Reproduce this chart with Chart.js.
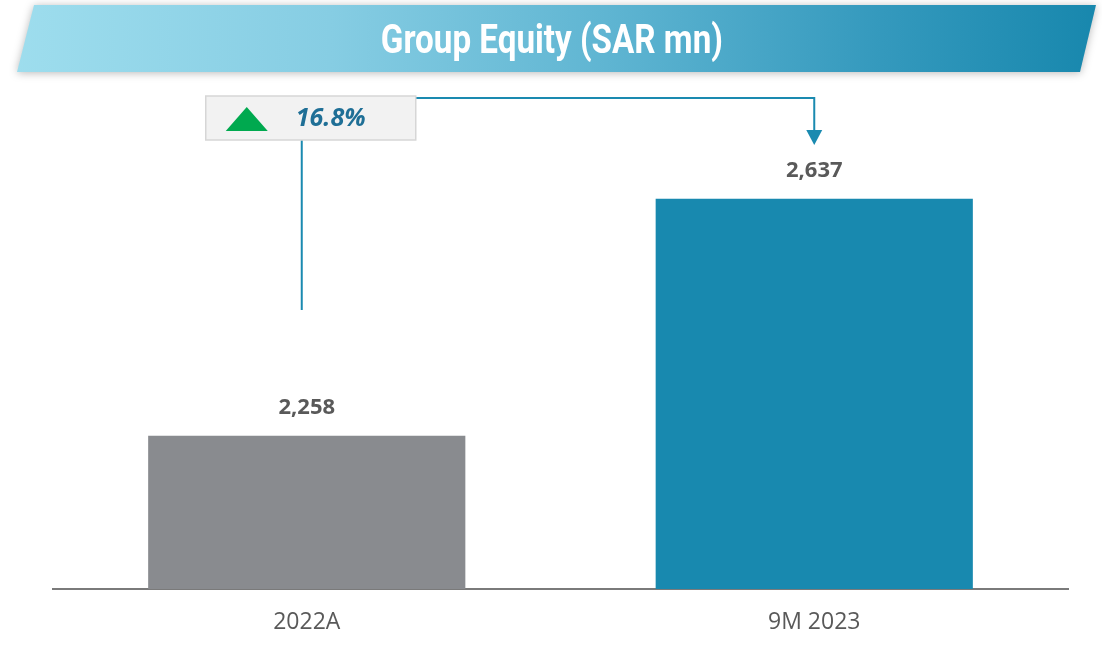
<!DOCTYPE html>
<html>
<head>
<meta charset="utf-8">
<script src="https://cdn.jsdelivr.net/npm/chart.js@4"></script>
<style>
  body { margin: 0; background: #fff; }
  #wrap { position: relative; width: 1102px; height: 652px; overflow: hidden; }
  #banner-shadow { position: absolute; left: 0; top: 0; width: 1102px; height: 80px;
    filter: drop-shadow(0 1px 4px rgba(0,0,0,0.28)); }
  #banner { position: absolute; left: 0; top: 0; width: 1102px; height: 80px;
    clip-path: polygon(34px 5px, 1096px 5px, 1080px 72px, 17px 72px);
    background: linear-gradient(to right, #9fdeee 0%, #86cde3 30%, #5fb5d2 55%, #3499bd 80%, #1787ad 100%); }
  #title { position: absolute; left: 0; top: 6px; width: 1102px; height: 67px; line-height: 67px;
    text-align: center; color: #fff; font-family: Roboto, sans-serif; font-weight: 700; font-size: 40px;
    transform: scaleX(0.83); transform-origin: 556px 0; }
  #chart { position: absolute; left: 0; top: 0; }
</style>
</head>
<body>
<div id="wrap">
  <canvas id="chart" width="1102" height="652"></canvas>
  <div id="banner-shadow"><div id="banner"></div></div>
  <div id="title">Group Equity (SAR mn)</div>
</div>
<script>
// data
const categories = ['2022A', '9M 2023'];
const equity = [2258, 2637];
const barColors = ['#898b8f', '#1889af'];
const growthLabel = '16.8%';

const fmt = v => v.toLocaleString('en-US');

// value labels above the bars
const valueLabels = {
  id: 'valueLabels',
  afterDatasetsDraw(chart) {
    const ctx = chart.ctx;
    const meta = chart.getDatasetMeta(0);
    ctx.save();
    ctx.font = "bold 22px 'Open Sans'";
    ctx.fillStyle = '#595959';
    ctx.textAlign = 'center';
    ctx.textBaseline = 'middle';
    meta.data.forEach((bar, i) => {
      ctx.fillText(fmt(equity[i]), bar.x, bar.y - 28);
    });
    ctx.restore();
  }
};

// growth box + connector arrow
const growthCallout = {
  id: 'growthCallout',
  afterDraw(chart) {
    const ctx = chart.ctx;
    const meta = chart.getDatasetMeta(0);
    const b0 = meta.data[0], b1 = meta.data[1];
    const boxL = b0.x - 101, boxT = 96, boxW = 210, boxH = 44;
    const lineX = b0.x - 5;
    const teal = '#1a8ab0';
    ctx.save();
    // connector lines
    ctx.strokeStyle = teal;
    ctx.lineWidth = 2;
    ctx.beginPath();
    ctx.moveTo(lineX, boxT + boxH);
    ctx.lineTo(lineX, 310);
    ctx.stroke();
    ctx.beginPath();
    ctx.moveTo(boxL + boxW, 98);
    ctx.lineTo(b1.x, 98);
    ctx.lineTo(b1.x, 131);
    ctx.stroke();
    ctx.fillStyle = teal;
    ctx.beginPath();
    ctx.moveTo(b1.x - 8, 130);
    ctx.lineTo(b1.x + 8, 130);
    ctx.lineTo(b1.x, 145);
    ctx.closePath();
    ctx.fill();
    // box
    ctx.fillStyle = '#f2f2f2';
    ctx.fillRect(boxL, boxT, boxW, boxH);
    ctx.strokeStyle = '#d6d6d6';
    ctx.lineWidth = 1.5;
    ctx.strokeRect(boxL, boxT, boxW, boxH);
    // green triangle
    ctx.fillStyle = '#00a94f';
    ctx.beginPath();
    ctx.moveTo(boxL + 20, 131);
    ctx.lineTo(boxL + 62, 131);
    ctx.lineTo(boxL + 41, 107);
    ctx.closePath();
    ctx.fill();
    // percentage
    ctx.font = "italic bold 25px 'Open Sans'";
    ctx.fillStyle = '#1f6f96';
    ctx.textAlign = 'center';
    ctx.textBaseline = 'middle';
    ctx.fillText(growthLabel, boxL + 125, 119);
    ctx.restore();
  }
};

new Chart(document.getElementById('chart'), {
  type: 'bar',
  data: {
    labels: categories,
    datasets: [{ data: equity, backgroundColor: barColors, borderWidth: 0,
      categoryPercentage: 1, barPercentage: 0.625 }]
  },
  options: {
    responsive: false,
    animation: false,
    layout: { padding: { left: 53, right: 34, top: 100, bottom: 15 } },
    plugins: { legend: { display: false }, tooltip: { enabled: false } },
    scales: {
      x: {
        grid: { display: false, drawTicks: false },
        border: { display: true, color: '#7a7a7a', width: 2 },
        ticks: { color: '#595959', font: { family: 'Open Sans', size: 23 }, padding: 20 },
        afterFit(scale) { scale.height = 48; }
      },
      y: { display: false, min: 2013, max: 2795 }
    }
  },
  plugins: [valueLabels, growthCallout]
});
</script>
</body>
</html>
